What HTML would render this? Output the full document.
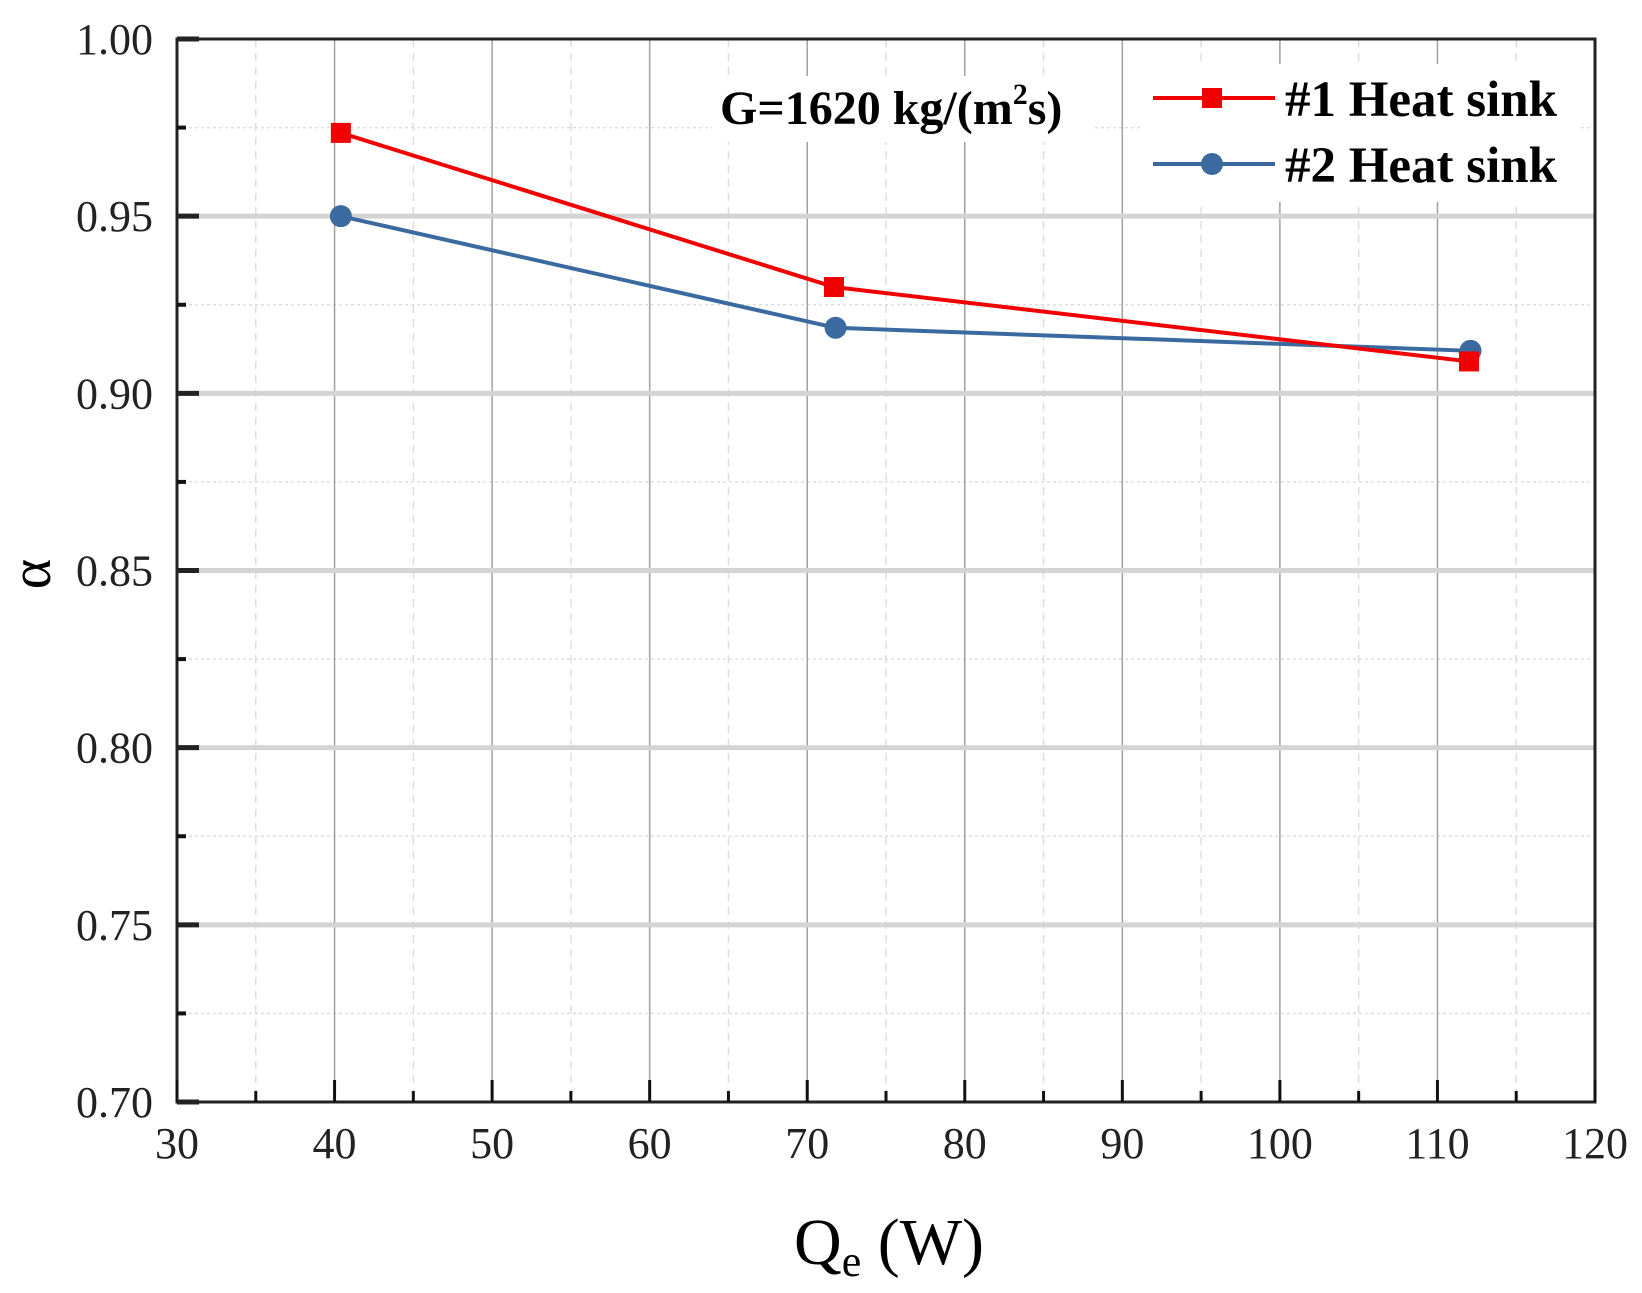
<!DOCTYPE html>
<html><head><meta charset="utf-8"><style>
html,body{margin:0;padding:0;background:#fff;}
svg{display:block;font-family:"Liberation Serif",serif;}
</style></head><body>
<svg id="chart" width="1642" height="1293" viewBox="0 0 1642 1293">
<g id="grid"></g>
<g id="axes"></g>
<g id="series"></g>
<text x="720" y="124" font-size="48" font-weight="bold">G=1620 kg/(m<tspan dy="-20" font-size="30">2</tspan><tspan dy="20">s)</tspan></text>
<g>
<g>
<line x1="1153" y1="98" x2="1275" y2="98" stroke="#f00000" stroke-width="4"/>
<rect x="1202" y="88" width="20" height="20" fill="#f00000"/>
<text x="1285" y="116" font-size="51" font-weight="bold">#1 Heat sink</text></g>
<g>
<line x1="1153" y1="164" x2="1275" y2="164" stroke="#3a6aa0" stroke-width="4"/>
<circle cx="1212" cy="164" r="11" fill="#3a6aa0"/>
<text x="1285" y="182" font-size="51" font-weight="bold">#2 Heat sink</text></g>
</g>
<text x="889" y="1264" font-size="66" text-anchor="middle">Q<tspan font-size="44" dy="12">e</tspan><tspan dy="-12"> (W)</tspan></text>
<text transform="translate(50,574) rotate(-90)" font-size="58" text-anchor="middle">α</text>
</svg>
<script>
const xTicks=[30,40,50,60,70,80,90,100,110,120];
const yTicks=[0.70,0.75,0.80,0.85,0.90,0.95,1.00];
const seriesNames=["#1 Heat sink","#2 Heat sink"];
const s1x=[40.4,71.7,112.0];
const s1y=[0.9735,0.930,0.909];
const s2x=[40.4,71.8,112.1];
const s2y=[0.950,0.9185,0.912];
const L=177,R=1595,T=39,B=1102;
const X=v=>L+(v-30)/90*(R-L);
const Y=v=>B-(v-0.70)/0.30*(B-T);
const NS="http://www.w3.org/2000/svg";
function mk(p,tag,a){const e=document.createElementNS(NS,tag);for(const k in a)e.setAttribute(k,a[k]);p.appendChild(e);return e;}
const grid=document.getElementById('grid'),axes=document.getElementById('axes'),ser=document.getElementById('series');
for(let v=35;v<120;v+=10){const g=mk(grid,'line',{x1:X(v),x2:X(v),y1:T,y2:B,stroke:'#ddd','stroke-width':1.5,'stroke-dasharray':'8 6'});

}
for(let v=0.725;v<1;v+=0.05){const g=mk(grid,'line',{x1:L,x2:R,y1:Y(v),y2:Y(v),stroke:'#ddd','stroke-width':1.5,'stroke-dasharray':'3 3'});

}
xTicks.slice(1,-1).forEach(v=>{const g=mk(grid,'line',{x1:X(v),x2:X(v),y1:T,y2:B,stroke:'#a0a0a0','stroke-width':1.5});

});
yTicks.slice(1,-1).forEach(v=>{const g=mk(grid,'line',{x1:L,x2:R,y1:Y(v),y2:Y(v),stroke:'#d4d4d4','stroke-width':5});

});
const bg1=mk(grid,'rect',{x:712,y:76,width:380,height:66,fill:'#fff'});


const bg2=mk(grid,'rect',{x:1143,y:64,width:438,height:138,fill:'#fff'});


const frame=mk(axes,'rect',{x:L,y:T,width:R-L,height:B-T,fill:'none',stroke:'#222','stroke-width':3});


xTicks.forEach(v=>{const t=mk(axes,'line',{x1:X(v),x2:X(v),y1:B,y2:B-22,stroke:'#111','stroke-width':3});


const l=mk(axes,'text',{x:X(v),y:1158,'font-size':44,'text-anchor':'middle',fill:'#222'});l.textContent=v;

});
for(let v=35;v<120;v+=10){const t=mk(axes,'line',{x1:X(v),x2:X(v),y1:B,y2:B-11,stroke:'#111','stroke-width':3});

}
yTicks.forEach(v=>{const t=mk(axes,'line',{x1:L,x2:L+22,y1:Y(v),y2:Y(v),stroke:'#222','stroke-width':5});


const l=mk(axes,'text',{x:153,y:Y(v)+15,'font-size':44,'text-anchor':'end',fill:'#222'});l.textContent=v.toFixed(2);

});
for(let v=0.725;v<1;v+=0.05){const t=mk(axes,'line',{x1:L,x2:L+9,y1:Y(v),y2:Y(v),stroke:'#111','stroke-width':4});

}
function draw(xs,ys,color,shape,name){
 const p=mk(ser,'polyline',{points:xs.map((x,i)=>X(x)+','+Y(ys[i])).join(' '),fill:'none',stroke:color,'stroke-width':4});
 
 
 xs.forEach((x,i)=>{let m;
  if(shape==='sq')m=mk(ser,'rect',{x:X(x)-10,y:Y(ys[i])-10,width:20,height:20,fill:color});
  else m=mk(ser,'circle',{cx:X(x),cy:Y(ys[i]),r:11,fill:color});
  
  });
}
draw(s2x,s2y,'#3a6aa0','ci','series-2');
draw(s1x,s1y,'#f00000','sq','series-1');
</script>
</body></html>
